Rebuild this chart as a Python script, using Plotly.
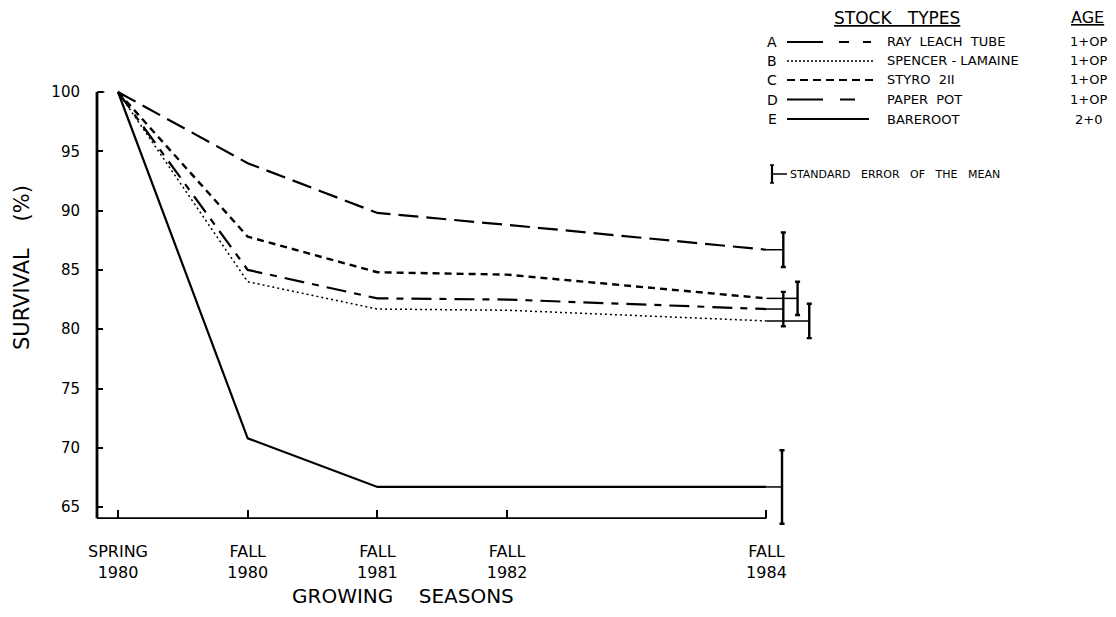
import plotly.graph_objects as go

# ---------------- data ----------------
seasons = ["SPRING<br>1980", "FALL<br>1980", "FALL<br>1981", "FALL<br>1982", "FALL<br>1984"]
season_pos = [0, 1, 2, 3, 5]

stock_letters = ["A", "B", "C", "D", "E"]
stock_names = ["RAY  LEACH  TUBE", "SPENCER - LAMAINE", "STYRO  2II", "PAPER  POT", "BAREROOT"]
stock_ages = ["1+OP", "1+OP", "1+OP", "1+OP", "2+0"]

survival_A = [100, 94.0, 89.8, 88.8, 86.7]
survival_B = [100, 84.0, 81.7, 81.6, 80.7]
survival_C = [100, 87.8, 84.8, 84.6, 82.6]
survival_D = [100, 85.0, 82.6, 82.5, 81.7]
survival_E = [100, 70.8, 66.7, 66.7, 66.7]

se_1984 = [1.45, 1.45, 1.4, 1.45, 3.1]     # standard error at FALL 1984 (A..E)

y_ticks = [65, 70, 75, 80, 85, 90, 95, 100]

# ---------------- styles / layout helpers ----------------
series = [survival_A, survival_B, survival_C, survival_D, survival_E]
dashes = ["20px,8px", "2px,3px", "7px,5px", "20px,8px,7px,8px", "solid"]
widths = [2.2, 1.5, 2.4, 2.2, 2.2]
bar_offset = [0.13, 0.33, 0.24, 0.13, 0.12]   # horizontal offset of SE bars
legend_dash = ["36px,16px,10px,14px,8px,100px", "2px,2px", "8px,5px",
               "36px,17px,15px,100px", "solid"]
legend_len = [86, 88, 86, 68, 82]

FONT = "DejaVu Sans"
BODY = 8                       # default page body margin
W, H = 1116, 617               # window size
# plot area in window pixels
PL, PT, PR, PB = 97, 85, 830, 530
PW, PH = PR - PL, PB - PT
FIG_W, FIG_H = W - 2 * BODY, H - 2 * BODY
x_range = [-0.162, 5.49]
y_range = [63.07, 100.59]
y_axis_bottom = 64.07


def px(x):
    return (x - PL) / PW


def py(y):
    return (PB - y) / PH


def note(x, y, text, size, xanchor="center", **kw):
    return dict(xref="paper", yref="paper", x=px(x), y=py(y), text=text,
                xanchor=xanchor, yanchor="middle", showarrow=False,
                font=dict(family=FONT, size=size, color="black"), **kw)


fig = go.Figure()

for i, s in enumerate(series):
    fig.add_trace(go.Scatter(
        x=season_pos, y=s, mode="lines",
        line=dict(color="black", width=widths[i], dash=dashes[i]),
        showlegend=False, hoverinfo="skip"))
    xb = season_pos[-1] + bar_offset[i]
    # connector from the last point to the SE bar
    fig.add_trace(go.Scatter(
        x=[season_pos[-1], xb], y=[s[-1], s[-1]], mode="lines",
        line=dict(color="black", width=1.5),
        showlegend=False, hoverinfo="skip"))
    # the SE bar
    fig.add_trace(go.Scatter(
        x=[xb], y=[s[-1]], mode="markers",
        marker=dict(size=1, color="rgba(0,0,0,0)"),
        error_y=dict(type="data", array=[se_1984[i]], visible=True,
                     color="black", thickness=2.4, width=2.5),
        showlegend=False, hoverinfo="skip"))

shapes = []
# axis lines
shapes.append(dict(type="line", xref="paper", yref="y", x0=0, x1=0,
                   y0=y_axis_bottom, y1=100, line=dict(color="black", width=2.8)))
shapes.append(dict(type="line", xref="paper", yref="y", x0=0, x1=0.01,
                   y0=100, y1=100, line=dict(color="black", width=1.5)))
shapes.append(dict(type="line", xref="x", yref="y", x0=x_range[0], x1=season_pos[-1],
                   y0=y_axis_bottom, y1=y_axis_bottom, line=dict(color="black", width=1.8)))

annotations = []
annotations.append(note(22, 268, "SURVIVAL    (%)", 21, textangle=-90))
annotations.append(note(403, 596, "GROWING    SEASONS", 20))

# legend (custom)
annotations.append(note(897, 18, "<span style='text-decoration:underline'>STOCK   TYPES</span>", 17))
annotations.append(note(1087, 18, "<span style='text-decoration:underline'>AGE</span>", 16))
row_y = [42, 61, 80, 99.5, 119]
for i in range(5):
    annotations.append(note(772, row_y[i], stock_letters[i], 14))
    annotations.append(note(885, row_y[i], stock_names[i], 13, xanchor="left"))
    annotations.append(note(1088, row_y[i], stock_ages[i], 13))
    yy = py(row_y[i])
    shapes.append(dict(type="line", xref="paper", yref="paper",
                       x0=px(787), x1=px(787 + legend_len[i]), y0=yy, y1=yy,
                       line=dict(color="black", width=1.8 if i != 1 else 1.3,
                                 dash=legend_dash[i])))

# SE symbol in legend
se_y0, se_y1, se_ym = py(165), py(183), py(174)
shapes.append(dict(type="line", xref="paper", yref="paper", x0=px(772), x1=px(772),
                   y0=se_y0, y1=se_y1, line=dict(color="black", width=2.2)))
for yy in (se_y0, se_y1):
    shapes.append(dict(type="line", xref="paper", yref="paper", x0=px(770), x1=px(774),
                       y0=yy, y1=yy, line=dict(color="black", width=1.5)))
shapes.append(dict(type="line", xref="paper", yref="paper", x0=px(772), x1=px(787),
                   y0=se_ym, y1=se_ym, line=dict(color="black", width=1.5)))
annotations.append(note(788, 174, "STANDARD   ERROR   OF   THE   MEAN", 11, xanchor="left"))

fig.update_layout(
    width=FIG_W, height=FIG_H,
    margin=dict(l=PL - BODY, r=FIG_W - (PR - BODY), t=PT - BODY, b=FIG_H - (PB - BODY)),
    paper_bgcolor="white", plot_bgcolor="white",
    showlegend=False,
    shapes=shapes, annotations=annotations,
    xaxis=dict(range=x_range, tickvals=season_pos, ticktext=seasons,
               ticks="inside", ticklen=8, tickwidth=1.6, tickcolor="black",
               showgrid=False, zeroline=False, showline=False,
               anchor="free", position=(y_axis_bottom - y_range[0]) / (y_range[1] - y_range[0]),
               ticklabelstandoff=22,
               tickfont=dict(family=FONT, size=16, color="black")),
    yaxis=dict(range=y_range, tickvals=y_ticks,
               ticks="inside", ticklen=5, tickwidth=1.6, tickcolor="black",
               showgrid=False, zeroline=False, showline=False,
               anchor="free", position=0, ticklabelstandoff=17,
               tickfont=dict(family=FONT, size=15, color="black")),
)

fig.write_html("out.html")
